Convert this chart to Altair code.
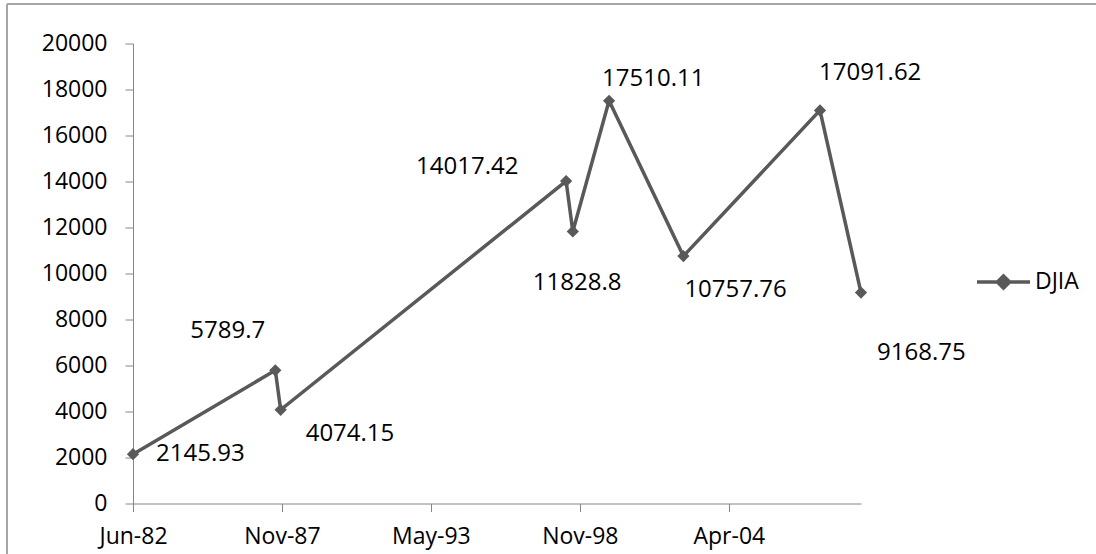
import altair as alt
import pandas as pd

# ---- data ----
dates = ["1982-06-01", "1987-08-25", "1987-11-05", "1998-05-04", "1998-08-02",
         "1999-12-02", "2002-08-26", "2007-09-03", "2009-03-07"]
values = [2145.93, 5789.7, 4074.15, 14017.42, 11828.8, 17510.11, 10757.76, 17091.62, 9168.75]
series = "DJIA"
x_ticks = ["1982-06-01", "1987-11-22", "1993-05-14", "1998-11-04", "2004-04-27"]
y_ticks = [0, 2000, 4000, 6000, 8000, 10000, 12000, 14000, 16000, 18000, 20000]

# label placement (pixel offsets from each point), styling only
label_dx = [23, -85, 25, -150, -40, -7, 1, -1, 16]
label_dy = [0, -39, 24, -14, 52, -22, 34, -37, 60]

GRAY = "#595959"
AXIS = "#868686"
FONT = "Open Sans"


def ms(s):
    return int(pd.Timestamp(s).value // 10**6)


df = pd.DataFrame({"date": dates, "value": values, "series": series,
                   "label": [str(v) for v in values]})

x_enc = alt.X("date:T",
              scale=alt.Scale(type="utc", domain=[ms(dates[0]), ms(dates[-1])], nice=False),
              axis=alt.Axis(title=None, values=[ms(t) for t in x_ticks],
                            labelExpr="utcFormat(datum.value, '%b-%y')",
                            labelFlush=False, labelOverlap=False,
                            tickSize=8, labelPadding=14, grid=False))
y_enc = alt.Y("value:Q",
              scale=alt.Scale(domain=[0, 20000], nice=False),
              axis=alt.Axis(title=None, values=y_ticks, format="d", grid=False,
                            tickSize=8, labelPadding=18, labelFlush=False))

legend_path = "M-1,0L1,0M0,-0.23L0.23,0L0,0.23L-0.23,0Z"

line = alt.Chart(df).mark_line(strokeWidth=3.5).encode(
    x=x_enc, y=y_enc,
    color=alt.Color("series:N", scale=alt.Scale(range=[GRAY]),
                    legend=alt.Legend(title=None, orient="none", legendX=842, legendY=210,
                                      symbolType=legend_path, symbolSize=2809,
                                      symbolStrokeWidth=3.5, symbolFillColor=GRAY,
                                      symbolStrokeColor=GRAY, labelFontSize=23,
                                      labelFont=FONT, labelColor="black", labelOffset=3,
                                      padding=0)),
)
points = alt.Chart(df).mark_point(shape="diamond", filled=True, size=150, opacity=1,
                                  color=GRAY).encode(x="date:T", y="value:Q")

texts = []
for i in range(len(values)):
    texts.append(
        alt.Chart(df.iloc[[i]]).mark_text(align="left", baseline="middle", fontSize=24,
                                          font=FONT, color="black",
                                          dx=label_dx[i], dy=label_dy[i]).encode(
            x="date:T", y="value:Q", text="label:N")
    )

frame_top = alt.Chart(df).mark_rule(color="#a6a6a6", strokeWidth=1.5).encode(
    x=alt.value(-126), x2=alt.value(963), y=alt.value(-39.5))
frame_left = alt.Chart(df).mark_rule(color="#a6a6a6", strokeWidth=1.5).encode(
    x=alt.value(-126), y=alt.value(-39.5), y2=alt.value(511))

chart = alt.layer(frame_top, frame_left, line, points, *texts).properties(
    width=728, height=460,
    autosize=alt.AutoSizeParams(type="none"),
    padding={"left": 133, "top": 43.5, "right": 235, "bottom": 50.5},
    background="white",
).configure_view(stroke=None).configure_axis(
    domainColor=AXIS, tickColor=AXIS, labelColor="black", labelFont=FONT,
    labelFontSize=23, domainWidth=1, tickWidth=1,
)

chart.save("out.html", embed_options={"renderer": "svg", "actions": False})
